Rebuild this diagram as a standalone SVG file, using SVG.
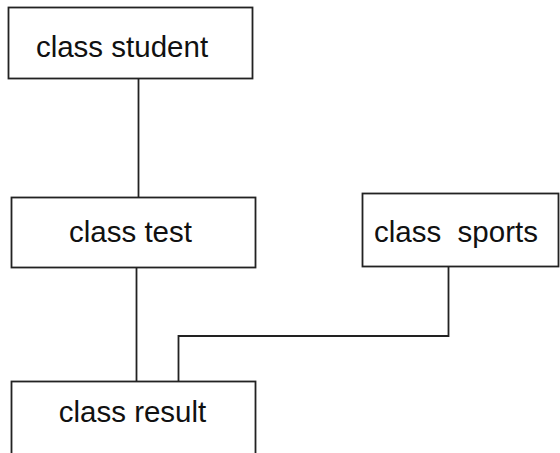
<svg xmlns="http://www.w3.org/2000/svg" width="560" height="453" viewBox="0 0 560 453">
  <style>
    .box { fill: #ffffff; stroke: #222222; stroke-width: 1.8; }
    .label { font-family: "Liberation Sans", Arial, sans-serif; font-size: 29.5px; fill: #111111; }
    .link { fill: none; stroke: #222222; stroke-width: 1.8; }
  </style>
  <rect width="560" height="453" fill="#ffffff"/>

  <g id="connectors">
    <line class="link" x1="138.5" y1="78" x2="138.5" y2="197"/>
    <line class="link" x1="136.5" y1="268" x2="136.5" y2="385"/>
    <polyline class="link" points="448.5,263 448.5,336 178.5,336 178.5,383"/>
  </g>

  <g id="student">
    <rect class="box" x="8.5" y="7.5" width="244" height="71"/>
    <text class="label" x="122" y="57" text-anchor="middle">class student</text>
  </g>

  <g id="test">
    <rect class="box" x="11.5" y="197.5" width="244" height="70"/>
    <text class="label" x="130.5" y="242" text-anchor="middle">class test</text>
  </g>

  <g id="sports">
    <rect class="box" x="362.5" y="193.5" width="196" height="73"/>
    <text class="label" x="374" y="242" xml:space="preserve">class  sports</text>
  </g>

  <g id="result">
    <rect class="box" x="11.5" y="381.5" width="244" height="80"/>
    <text class="label" x="132.5" y="422" text-anchor="middle">class result</text>
  </g>
</svg>
